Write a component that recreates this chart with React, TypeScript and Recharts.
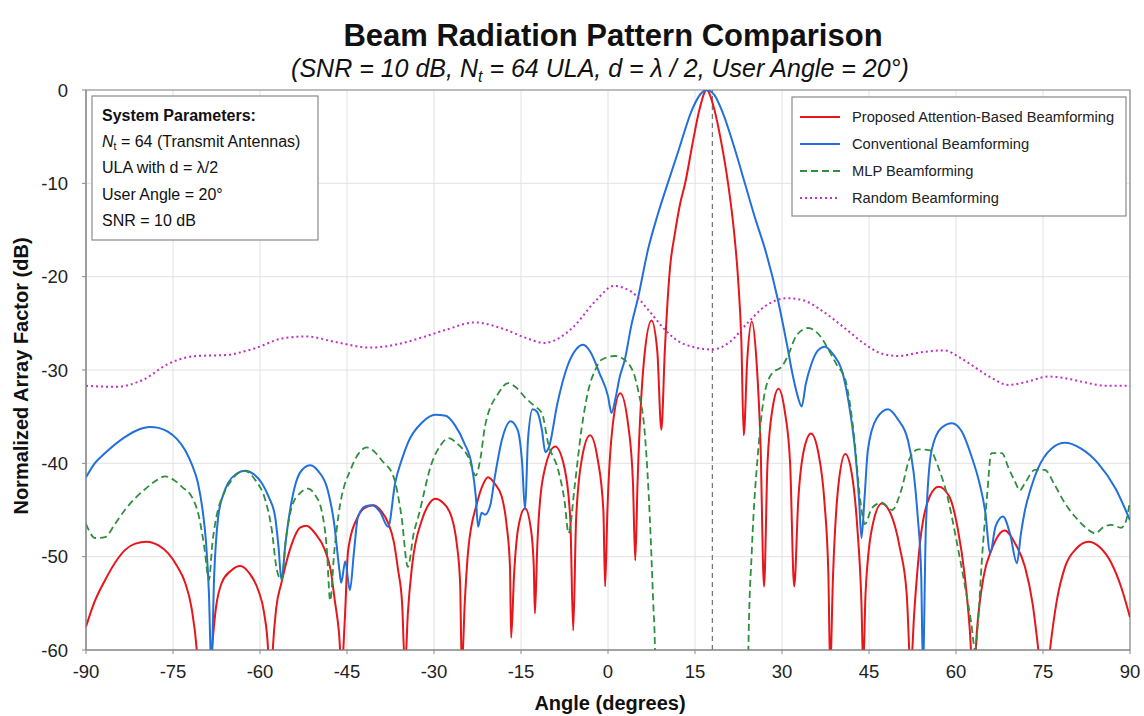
import React from 'react';
import { LineChart, Line, XAxis, YAxis, CartesianGrid, ReferenceLine, ReferenceArea } from 'recharts';

const xTicks = [-90, -75, -60, -45, -30, -15, 0, 15, 30, 45, 60, 75, 90];
const yTicks = [-60, -50, -40, -30, -20, -10, 0];
const userAngleLine = 18;

const seriesNames = [
  'Proposed Attention-Based Beamforming',
  'Conventional Beamforming',
  'MLP Beamforming',
  'Random Beamforming',
];

type P = [number, number];

const proposedPts: P[] = [
  [-90, -57.5], [-88.5, -54.8], [-86.7, -52.5], [-84.5, -50.2], [-83.3, -49.3], [-81.5, -48.6], [-79.5, -48.4],
  [-77.5, -48.8], [-75.9, -49.6], [-74.3, -51], [-72.9, -52.8], [-71.8, -55.5], [-70.9, -60], [-70.3, -66],
  [-69, -66], [-68.3, -60], [-67.6, -55.5], [-66.6, -52.8], [-65, -51.5], [-63.4, -51], [-61.8, -51.8],
  [-60.3, -53.6], [-59.3, -56], [-58.6, -60], [-58.2, -66], [-57.8, -60], [-57.2, -55.5], [-56.3, -52.8],
  [-54.5, -48.6], [-53.1, -46.9], [-52, -46.7], [-50.5, -47.5], [-48.8, -49.3], [-47.8, -51.5], [-47.1, -54.7],
  [-46.4, -58], [-45.9, -62], [-45.4, -57], [-44.8, -49.3], [-43.1, -45.7], [-42, -44.8], [-40.5, -44.5],
  [-39, -45.2], [-37.9, -46.4], [-36.9, -48.5], [-36.2, -51.4], [-35.5, -55], [-35, -62], [-34.5, -56],
  [-33.8, -51.1], [-32.1, -46.1], [-31, -44.5], [-29.8, -43.8], [-28.5, -44.2], [-27, -45.7], [-26.1, -48.5],
  [-25.5, -52.8], [-25.2, -62], [-24.7, -55], [-24.1, -49.3], [-22.6, -44.3], [-21.5, -42.2], [-20.7, -41.5],
  [-19.5, -42.2], [-18.3, -43.6], [-17.5, -46.5], [-16.9, -51.1], [-16.7, -58.7], [-16.2, -52], [-15.5, -47],
  [-14.3, -44.8], [-13.3, -47], [-12.8, -51], [-12.6, -56.1], [-12.2, -49], [-11.2, -41.5], [-9.1, -38.2],
  [-7.5, -40.5], [-6.5, -46], [-6, -57.9], [-5.5, -46], [-4.5, -39.5], [-3.1, -37], [-1.8, -39.5],
  [-0.8, -45], [-0.5, -53.2], [-0.1, -45], [0.8, -36], [2.1, -32.5], [3.5, -36], [4.3, -42], [4.7, -50.4],
  [5.1, -42], [6.2, -29], [7.5, -24.7], [8.5, -28], [9.2, -36.4], [9.8, -27.9], [10.7, -19], [11.5, -15.5],
  [12.5, -12], [13.3, -10], [14.5, -6], [15.8, -2], [17, 0], [18.3, -2], [19.5, -5.5], [20.7, -10],
  [21.7, -15], [22.4, -20], [23, -27], [23.4, -37], [24, -29], [24.8, -24.8], [25.6, -29], [26.3, -38],
  [26.9, -53.2], [27.5, -40], [28.4, -34], [29.4, -32], [30.5, -34.5], [31.4, -40], [32.1, -53.2],
  [32.8, -44], [33.8, -38.5], [35, -36.8], [36.3, -39], [37.3, -44], [38, -52], [38.3, -62], [38.8, -52],
  [39.7, -42.5], [40.9, -39], [42, -41], [43, -47], [43.7, -55], [44, -62], [44.4, -54], [45.5, -47],
  [47.2, -44.3], [48.8, -45.5], [50.3, -49], [51.5, -54], [52.2, -62], [52.8, -56], [53.8, -48.5],
  [55.5, -43.5], [57, -42.5], [58.8, -43.5], [60.3, -47], [61.5, -52], [62.4, -58], [63, -64], [63.6, -58],
  [64.8, -52], [66.1, -49.3], [68.4, -47.2], [70.2, -48.6], [71.9, -51.1], [73.2, -55], [74.2, -60],
  [75.2, -66], [76.2, -60], [77.3, -55], [78.8, -51.1], [80.8, -49.1], [82.8, -48.4], [84.8, -49],
  [86.8, -50.7], [88.5, -53.3], [90, -56.5],
];

const conventionalPts: P[] = [
  [-90, -41.5], [-88.5, -40], [-86.7, -38.9], [-83.3, -37.2], [-81, -36.4], [-79, -36.1], [-77.5, -36.2],
  [-75.9, -36.6], [-74.3, -37.4], [-72.9, -38.6], [-71.7, -40.2], [-70.7, -42.1], [-69.9, -45], [-69.3, -48.5],
  [-68.8, -54], [-68.4, -62], [-67.9, -52], [-67.2, -45.7], [-66.3, -43.3], [-65.5, -42.1], [-64, -41.1],
  [-62.6, -40.8], [-61, -41.2], [-59.7, -42.1], [-58.5, -43.6], [-57.4, -45.7], [-56.8, -49], [-56.3, -52.5],
  [-55.6, -48.5], [-54.5, -43.9], [-53.1, -41], [-51.4, -40.2], [-50, -40.8], [-48.3, -42.9], [-47.2, -46.5],
  [-46.3, -51.5], [-46, -52.8], [-45.3, -50.5], [-44.5, -53.6], [-43.8, -49.5], [-43.1, -45.7], [-41.8, -44.6],
  [-40.7, -44.5], [-39.3, -45.2], [-37.9, -46.8], [-36.7, -42.1], [-35.5, -39.5], [-34.5, -37.8], [-32, -35.6],
  [-29.8, -34.8], [-28, -34.9], [-26.4, -35.9], [-24.8, -37.8], [-23.5, -40.2], [-22.8, -43.5], [-22.4, -46.8],
  [-21.8, -45.3], [-21.2, -45.5], [-20.3, -44.5], [-19.5, -41.4], [-18.3, -37.5], [-16.8, -35.5], [-15.6, -36.4],
  [-14.8, -40], [-14.3, -45], [-13.8, -37.5], [-13, -34.2], [-12.2, -34.5], [-11.4, -36.4], [-10.8, -38.8],
  [-10.2, -38.3], [-8.7, -33.5], [-7, -29.6], [-5.5, -27.8], [-4.3, -27.3], [-3, -28.1], [-1.5, -30.3],
  [0, -32.8], [0.6, -34.6], [1.3, -33], [2, -30.8], [2.9, -28.9], [4, -25.3], [5.2, -22.2], [6.9, -17.1],
  [8.5, -13.5], [10.3, -10], [12.2, -6.4], [14.5, -2.1], [16, -0.4], [17, 0], [18.3, -0.5], [19.5, -2],
  [21.9, -6.4], [23.6, -10], [25.5, -14], [27.1, -17.1], [29.3, -22.5], [30.8, -27.1], [31.9, -30.7],
  [32.7, -32.8], [33.4, -33.9], [34.1, -31.5], [35.1, -29.3], [36.2, -27.9], [37.4, -27.5], [38.8, -28.3],
  [40.3, -30], [41.5, -33.5], [42.6, -38.6], [43.3, -44], [43.7, -48], [44.2, -44], [44.8, -38.6],
  [46.3, -35.2], [48.3, -34.2], [50, -35.3], [51.7, -37.5], [52.7, -41], [53.4, -45.7], [54, -52],
  [54.3, -62], [54.8, -47], [55.8, -38.6], [57.5, -36.2], [59.3, -35.7], [61, -36.6], [62.7, -39.3],
  [64, -42], [65, -45], [65.9, -49.6], [66.8, -46.8], [68.1, -45.7], [69.3, -47.5], [70.5, -50.7],
  [71.2, -47.5], [71.9, -45], [73, -42.5], [74.1, -40.6], [76.5, -38.4], [78.8, -37.8], [81.5, -38.4],
  [84.5, -40], [87.5, -42.7], [90, -46.1],
];

const mlpPts: P[] = [
  [-90, -46.5], [-88.4, -48], [-86.7, -47.9], [-85, -46.5], [-83.3, -45], [-81.3, -43.6], [-79.3, -42.5],
  [-77.8, -41.8], [-76.4, -41.4], [-74.8, -41.8], [-73.5, -42.5], [-71.5, -43.9], [-70.6, -45.5], [-69.6, -49],
  [-68.8, -52.5], [-68.2, -48.5], [-67.5, -45.7], [-66.2, -43.2], [-64.9, -41.8], [-62.6, -40.8], [-60.8, -41.8],
  [-59.1, -43.9], [-58, -47], [-57.1, -51.4], [-56.3, -52.5], [-55.5, -48], [-54.5, -44.6], [-53.1, -43.2],
  [-51.7, -42.7], [-50.5, -43.4], [-49.4, -45], [-48.5, -49], [-47.9, -54.7], [-47.2, -49.5], [-46.5, -45.7],
  [-44.2, -40.4], [-42.8, -38.8], [-41.6, -38.3], [-40.2, -38.8], [-39, -39.7], [-37, -41.4], [-35.6, -45.7],
  [-34.5, -51.1], [-33.5, -47.5], [-32.7, -45.7], [-30.4, -40], [-28.8, -38], [-27.5, -37.3], [-25.8, -38],
  [-24.1, -39.3], [-22.8, -41.3], [-22, -39.5], [-21.2, -36], [-18.9, -32.5], [-17.2, -31.4], [-16, -31.8],
  [-14.2, -33], [-12.6, -33.9], [-11.4, -34.6], [-10.3, -37.9], [-8.6, -40.7], [-7.5, -44], [-6.8, -47.5],
  [-5.7, -42.2], [-4.6, -36.5], [-3.4, -32.2], [-2.2, -30], [-1.1, -28.9], [1.2, -28.5], [3.5, -29.3],
  [5.2, -32.2], [6.4, -37.2], [7.2, -45.7], [7.8, -55], [8.1, -60], [8.4, -80], [23.9, -80], [24.2, -60],
  [24.8, -49.3], [25.9, -38.6], [27.1, -32.2], [28.5, -30.2], [29.9, -29.7], [31, -28.5], [32.5, -26.3],
  [34.5, -25.5], [36.5, -26.3], [38, -27.8], [39.5, -29.5], [40.9, -31], [41.8, -34], [42.5, -37.5],
  [43.5, -44], [44.3, -46.5], [45.5, -44.8], [47.2, -44.2], [49, -45], [50.5, -43], [52, -39.5],
  [53.5, -38.5], [55.5, -38.6], [57, -40.5], [58.5, -43.5], [60, -48], [61.5, -53], [62.6, -57], [63.3, -60],
  [63.8, -57], [64.5, -50], [65.3, -43.9], [66.1, -38.9], [67.9, -38.9], [69, -40.4], [70.2, -42], [71, -42.9],
  [71.9, -42.1], [73.6, -40.7], [75.3, -40.7], [77, -42.3], [78.8, -44.3], [80.5, -45.7], [82.2, -46.8],
  [84, -47.5], [85.5, -46.8], [86.8, -46.6], [88.5, -46.9], [89.3, -46.2], [90, -44],
];

const randomPts: P[] = [
  [-90, -31.7], [-85, -31.8], [-80, -31.0], [-76, -29.4], [-71, -28.5], [-66, -28.4], [-61, -27.7],
  [-56, -26.6], [-52, -26.4], [-47, -27.0], [-41, -27.6], [-36, -27.2], [-32, -26.5], [-28, -25.7],
  [-23, -24.9], [-18, -25.6], [-14, -26.6], [-11, -27.1], [-8.5, -26.6], [-6, -25.4], [-2, -22.5],
  [1, -21.0], [4, -21.6], [7, -23.6], [10, -25.8], [13, -27.2], [18, -27.8], [21, -27.0], [24, -25.0],
  [27, -23.2], [31, -22.3], [34, -22.6], [37, -23.7], [41, -25.6], [44, -27.1], [47, -28.2], [50, -28.5],
  [54, -28.1], [58, -27.9], [60.5, -28.6], [63, -29.6], [66, -30.8], [69, -31.6], [72, -31.3], [76, -30.7],
  [79, -30.9], [82, -31.3], [86, -31.7], [90, -31.7],
];

const toData = (pts: P[]) => pts.map(([x, y]) => ({ x, y }));
const proposedData = toData(proposedPts);
const conventionalData = toData(conventionalPts);
const mlpData = toData(mlpPts);
const randomData = toData(randomPts);

const FONT = '"Liberation Sans", Arial, Helvetica, sans-serif';
const RED = '#e8151b';
const BLUE = '#2170dc';
const GREEN = '#2f8f3f';
const MAGENTA = '#c22fc2';

const legendItems = [
  { name: seriesNames[0], color: RED, dash: undefined as string | undefined },
  { name: seriesNames[1], color: BLUE, dash: undefined },
  { name: seriesNames[2], color: GREEN, dash: '7 4' },
  { name: seriesNames[3], color: MAGENTA, dash: '2 3' },
];

export default function App() {
  return (
    <div style={{ position: 'absolute', left: 0, top: 0, width: 1144, height: 716, background: '#fff', fontFamily: FONT }}>
      <LineChart width={1144} height={716} margin={{ top: 90, right: 14, bottom: 36, left: 30 }}>
        <CartesianGrid stroke="#e2e2e2" strokeWidth={1} horizontalValues={yTicks} verticalValues={xTicks} />
        <XAxis
          dataKey="x"
          type="number"
          domain={[-90, 90]}
          ticks={xTicks}
          allowDataOverflow
          height={30}
          tickSize={4}
          tickMargin={11}
          stroke="#888"
          tick={{ fontSize: 18.5, fill: '#222', fontFamily: FONT }}
        />
        <YAxis
          type="number"
          domain={[-60, 0]}
          ticks={yTicks}
          allowDataOverflow
          width={56}
          tickSize={4}
          tickMargin={14}
          stroke="#888"
          tick={{ fontSize: 18.5, fill: '#222', fontFamily: FONT }}
        />
        <ReferenceArea x1={-90} x2={90} y1={-60} y2={0} fill="none" fillOpacity={0} stroke="#8a8a8a" strokeWidth={1.2} />
        <ReferenceLine x={userAngleLine} stroke="#777" strokeDasharray="5 4" strokeWidth={1.3} />
        <Line data={proposedData} dataKey="y" name={seriesNames[0]} type="monotone" stroke={RED} strokeWidth={2} dot={false} isAnimationActive={false} />
        <Line data={conventionalData} dataKey="y" name={seriesNames[1]} type="monotone" stroke={BLUE} strokeWidth={2} dot={false} isAnimationActive={false} />
        <Line data={mlpData} dataKey="y" name={seriesNames[2]} type="monotone" stroke={GREEN} strokeWidth={1.8} strokeDasharray="7 4" dot={false} isAnimationActive={false} />
        <Line data={randomData} dataKey="y" name={seriesNames[3]} type="monotone" stroke={MAGENTA} strokeWidth={2} strokeDasharray="2 3" dot={false} isAnimationActive={false} />
      </LineChart>
      <svg width={1144} height={716} style={{ position: 'absolute', left: 0, top: 0, pointerEvents: 'none' }} fontFamily={FONT}>
        <text x={613} y={46} textAnchor="middle" fontSize={31} fontWeight="bold" fill="#111">Beam Radiation Pattern Comparison</text>
        <text x={600} y={77} textAnchor="middle" fontSize={25} fontStyle="italic" fill="#111">
          (SNR = 10 dB, N<tspan fontSize={16} dy={5}>t</tspan><tspan dy={-5}> = 64 ULA, d = λ / 2, User Angle = 20°)</tspan>
        </text>
        <text x={610} y={710} textAnchor="middle" fontSize={20} fontWeight="bold" fill="#111">Angle (degrees)</text>
        <text x={28} y={376} textAnchor="middle" fontSize={20} fontWeight="bold" fill="#111" transform="rotate(-90 28 376)">Normalized Array Factor (dB)</text>

        <rect x={92} y={96} width={226} height={144} fill="#fff" stroke="#8a8a8a" strokeWidth={1.2} />
        <text x={102} y={121} fontSize={16} fontWeight="bold" fill="#111">System Parameters:</text>
        <text x={102} y={147} fontSize={16} fill="#111">
          <tspan fontStyle="italic">N</tspan><tspan fontSize={10.5} dy={3}>t</tspan><tspan dy={-3}> = 64 (Transmit Antennas)</tspan>
        </text>
        <text x={102} y={173} fontSize={16} fill="#111">ULA with d = λ/2</text>
        <text x={102} y={200} fontSize={16} fill="#111">User Angle = 20°</text>
        <text x={102} y={226} fontSize={16} fill="#111">SNR = 10 dB</text>

        <rect x={792} y={97} width={334} height={119} fill="#fff" stroke="#8a8a8a" strokeWidth={1.2} />
        {legendItems.map((it, i) => (
          <g key={it.name}>
            <line x1={800} x2={840} y1={117 + i * 27} y2={117 + i * 27} stroke={it.color} strokeWidth={2} strokeDasharray={it.dash} />
            <text x={852} y={122 + i * 27} fontSize={14.7} fill="#222">{it.name}</text>
          </g>
        ))}
      </svg>
    </div>
  );
}
